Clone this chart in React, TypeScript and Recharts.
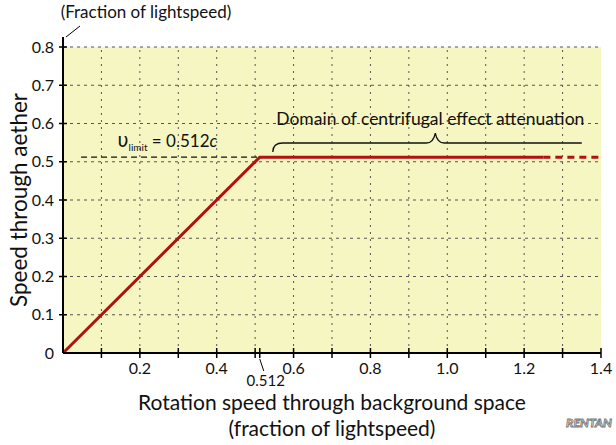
import { ComposedChart, Line, XAxis, YAxis, ReferenceLine, ReferenceArea, Label } from 'recharts';

// speed curve: linear rise up to the limit, then flat
const limitSpeed = 0.512;
const solidPoints = [
  { x: 0, y: 0 },
  { x: 0.512, y: 0.512 },
  { x: 1.25, y: 0.512 },
];
const dashedPoints = [
  { x: 1.25, y: 0.512 },
  { x: 1.4, y: 0.512 },
];

const xTicks = [0.1, 0.2, 0.3, 0.4, 0.5, 0.512, 0.6, 0.7, 0.8, 0.9, 1.0, 1.1, 1.2, 1.3, 1.4];
const xLabeled = [0.2, 0.4, 0.6, 0.8, 1.0, 1.2, 1.4];
const yTicks = [0, 0.1, 0.2, 0.3, 0.4, 0.5, 0.6, 0.7, 0.8];
const xGrid = [0.1, 0.2, 0.3, 0.4, 0.5, 0.6, 0.7, 0.8, 0.9, 1.0, 1.1, 1.2, 1.3];
const yGrid = [0.1, 0.2, 0.3, 0.4, 0.5, 0.6, 0.7, 0.8];

// annotation positions (data units)
const limitLineStart = 0.047;
const braceFrom = 0.546;
const braceTo = 1.35;
const braceY = 0.549;

const FONT = 'Lato, "Open Sans", sans-serif';
const RED = '#b01212';

const XTick = ({ x, y, payload }: any) => {
  const v = payload.value;
  if (Math.abs(v - limitSpeed) < 1e-6) {
    return (
      <g>
        <line x1={x} y1={y - 5} x2={x} y2={y + 5} stroke="#000" strokeWidth={1.5} />
        <line x1={x} y1={y + 6} x2={x + 4} y2={y + 18} stroke="#000" strokeWidth={1} />
        <text x={x + 6} y={y + 33} textAnchor="middle" fontSize={15} fontFamily={FONT} fill="#111">
          0.512
        </text>
      </g>
    );
  }
  const labeled = xLabeled.some((l) => Math.abs(l - v) < 1e-6);
  return (
    <g>
      <line x1={x} y1={y - 5} x2={x} y2={y + 5} stroke="#000" strokeWidth={1.5} />
      {labeled && (
        <text x={x} y={y + 21} textAnchor="middle" fontSize={16} fontFamily={FONT} fill="#111">
          {v.toFixed(1)}
        </text>
      )}
    </g>
  );
};

const YTick = ({ x, y, payload }: any) => {
  const v = payload.value;
  return (
    <g>
      {v !== 0 && <line x1={x - 4} y1={y} x2={x + 4} y2={y} stroke="#000" strokeWidth={1.5} />}
      <text x={x - 9} y={y} dy={5.5} textAnchor="end" fontSize={16} fontFamily={FONT} fill="#111">
        {v === 0 ? '0' : v.toFixed(1)}
      </text>
    </g>
  );
};

const Brace = (props: any) => {
  const { x1, y1, x2 } = props;
  const xm = (x1 + x2) / 2 + 8;
  const d = `M ${x1} ${y1 + 9} Q ${x1} ${y1} ${x1 + 10} ${y1} L ${xm - 9} ${y1} Q ${xm - 2} ${y1} ${xm} ${y1 - 10} Q ${xm + 2} ${y1} ${xm + 9} ${y1} L ${x2} ${y1}`;
  return <path d={d} fill="none" stroke="#111" strokeWidth={1.3} />;
};

const App = () => {
  return (
    <div style={{ position: 'absolute', left: 0, top: 0, width: 616, height: 445, background: '#fff' }}>
      <ComposedChart width={616} height={445} margin={{ top: 47, right: 15, bottom: 62, left: 23 }}>
        <ReferenceArea x1={0} x2={1.4} y1={0} y2={0.8} fill="#f5f6c1" fillOpacity={1} stroke="none" />
        {xGrid.map((v) => (
          <ReferenceLine key={'gx' + v} x={v} stroke="#555" strokeWidth={1} strokeDasharray="2 5" />
        ))}
        {yGrid.map((v) => (
          <ReferenceLine key={'gy' + v} y={v} stroke="#555" strokeWidth={1} strokeDasharray="3 4" />
        ))}
        <XAxis
          type="number"
          dataKey="x"
          domain={[0, 1.4]}
          ticks={xTicks}
          interval={0}
          tick={<XTick />}
          tickLine={false}
          tickSize={0}
          tickMargin={0}
          axisLine={{ stroke: '#000', strokeWidth: 2 }}
          height={30}
          allowDataOverflow
        >
          <Label
            content={({ viewBox }: any) => {
              const cx = viewBox.x + viewBox.width / 2;
              return (
                <g fontFamily={FONT} fontSize={21} fill="#111" textAnchor="middle">
                  <text x={cx} y={410}>Rotation speed through background space</text>
                  <text x={cx} y={436}>(fraction of lightspeed)</text>
                  <text
                    x={566}
                    y={427}
                    textAnchor="start"
                    fontSize={12}
                    fontStyle="italic"
                    fontWeight="bold"
                    fill="#fff"
                    stroke="#777"
                    strokeWidth={0.9}
                    textLength={46}
                    lengthAdjust="spacingAndGlyphs"
                  >
                    RENTAN
                  </text>
                </g>
              );
            }}
          />
        </XAxis>
        <YAxis
          type="number"
          dataKey="y"
          domain={[0, 0.8]}
          ticks={yTicks}
          interval={0}
          tick={<YTick />}
          tickLine={false}
          tickSize={0}
          tickMargin={0}
          axisLine={{ stroke: '#000', strokeWidth: 2 }}
          width={40}
          allowDataOverflow
        >
          <Label
            content={() => {
              const ax = 63;
              const top = 47;
              const cy = 200;
              return (
                <g fontFamily={FONT} fill="#111">
                  <text
                    x={18}
                    y={cy}
                    transform={`rotate(-90, 18, ${cy})`}
                    textAnchor="middle"
                    dominantBaseline="central"
                    fontSize={22.5}
                  >
                    Speed through aether
                  </text>
                  <line x1={ax} y1={top} x2={ax} y2={top - 10} stroke="#000" strokeWidth={2} />
                  <line x1={ax + 3} y1={top - 10} x2={ax + 17} y2={top - 21} stroke="#000" strokeWidth={1} />
                  <text x={ax + 83} y={top - 29} textAnchor="middle" fontSize={17}>
                    (Fraction of lightspeed)
                  </text>
                </g>
              );
            }}
          />
        </YAxis>
        <ReferenceLine
          segment={[
            { x: limitLineStart, y: limitSpeed },
            { x: limitSpeed, y: limitSpeed },
          ]}
          stroke="#111"
          strokeWidth={1.3}
          strokeDasharray="6 4"
        >
          <Label
            content={({ viewBox }: any) => {
              const cx = viewBox.x + viewBox.width / 2 - 3;
              return (
                <text x={cx} y={viewBox.y - 10} textAnchor="middle" fontFamily={FONT} fontSize={17} fill="#111">
                  <tspan fontSize={19} fontFamily="'DejaVu Sans', sans-serif">υ</tspan>
                  <tspan fontSize={10} dy={4}>limit</tspan>
                  <tspan dy={-4}> = 0.512</tspan>
                  <tspan fontStyle="italic">c</tspan>
                </text>
              );
            }}
          />
        </ReferenceLine>
        <ReferenceLine
          segment={[
            { x: braceFrom, y: braceY },
            { x: braceTo, y: braceY },
          ]}
          shape={<Brace />}
        >
          <Label
            content={({ viewBox }: any) => (
              <text
                x={viewBox.x + viewBox.width / 2 + 3}
                y={viewBox.y - 18}
                textAnchor="middle"
                fontFamily={FONT}
                fontSize={17.5}
                fill="#111"
              >
                Domain of centrifugal effect attenuation
              </text>
            )}
          />
        </ReferenceLine>
        <Line
          data={solidPoints}
          dataKey="y"
          type="linear"
          stroke={RED}
          strokeWidth={3}
          dot={false}
          isAnimationActive={false}
        />
        <Line
          data={dashedPoints}
          dataKey="y"
          type="linear"
          stroke={RED}
          strokeWidth={3}
          strokeDasharray="7 5"
          dot={false}
          isAnimationActive={false}
        />
      </ComposedChart>
    </div>
  );
};

export default App;
